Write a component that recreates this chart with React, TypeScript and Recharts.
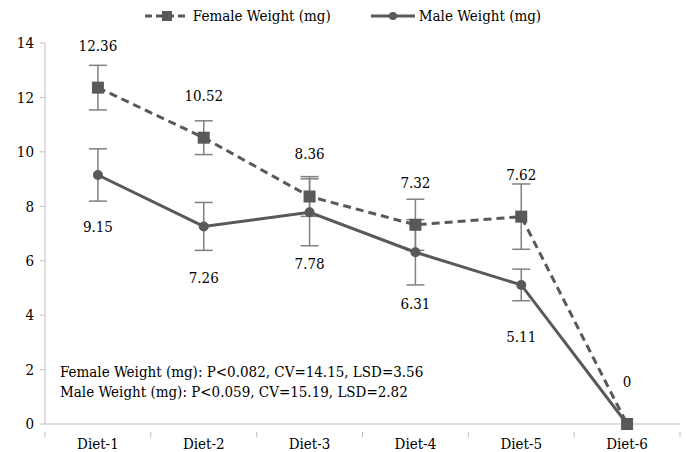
import React from "react";
import {
  LineChart,
  Line,
  XAxis,
  YAxis,
  ErrorBar,
  LabelList,
  Legend,
} from "recharts";

const diets = ["Diet-1", "Diet-2", "Diet-3", "Diet-4", "Diet-5", "Diet-6"];
const femaleWeight = [12.36, 10.52, 8.36, 7.32, 7.62, 0];
const femaleErr = [0.82, 0.62, 0.73, 0.94, 1.2, 0];
const maleWeight = [9.15, 7.26, 7.78, 6.31, 5.11, 0];
const maleErr = [0.96, 0.88, 1.23, 1.2, 0.58, 0];
const yTicks = [0, 2, 4, 6, 8, 10, 12, 14];
// band edges (0..6) get tick marks, band centres (i + 0.5) get the labels
const xTicks = [0, 0.5, 1, 1.5, 2, 2.5, 3, 3.5, 4, 4.5, 5, 5.5, 6];

const data = diets.map((d, i) => ({
  diet: d,
  pos: i + 0.5,
  female: femaleWeight[i],
  femaleErr: femaleErr[i],
  male: maleWeight[i],
  maleErr: maleErr[i],
}));

const FONT = "'DejaVu Serif Condensed', 'DejaVu Serif', serif";
const LINE = "#595959";
const ERR = "#808080";
const AXIS = "#bfbfbf";

const SquareDot = (props: any) => {
  const { cx, cy, index } = props;
  if (cx == null || cy == null) return null;
  return <rect key={`sq-${index}`} x={cx - 6} y={cy - 6} width={12} height={12} fill={LINE} />;
};

const CircleDot = (props: any) => {
  const { cx, cy, index } = props;
  if (cx == null || cy == null) return null;
  return <circle key={`ci-${index}`} cx={cx} cy={cy} r={5} fill={LINE} />;
};

const DietTick = (props: any) => {
  const { x, y, payload } = props;
  const v = payload.value;
  if (Number.isInteger(v)) {
    return <line x1={x} y1={y} x2={x} y2={y + 5} stroke={AXIS} />;
  }
  return (
    <text
      x={x}
      y={y + 17}
      textAnchor="middle"
      fill="#000"
      fontFamily={FONT}
      fontSize={15}
    >
      {diets[Math.floor(v)]}
    </text>
  );
};

const LegendContent = () => (
  <div
    style={{
      display: "flex",
      justifyContent: "center",
      gap: 40,
      fontFamily: FONT,
      fontSize: 15,
      color: "#000",
    }}
  >
    <div style={{ display: "flex", alignItems: "center", gap: 4 }}>
      <svg width={44} height={12}>
        <line x1={0} y1={6} x2={44} y2={6} stroke={LINE} strokeWidth={3} strokeDasharray="7 4" />
        <rect x={17} y={1} width={10} height={10} fill={LINE} />
      </svg>
      <span>Female Weight (mg)</span>
    </div>
    <div style={{ display: "flex", alignItems: "center", gap: 4 }}>
      <svg width={44} height={12}>
        <line x1={0} y1={6} x2={44} y2={6} stroke={LINE} strokeWidth={3} />
        <circle cx={22} cy={6} r={4} fill={LINE} />
      </svg>
      <span>Male Weight (mg)</span>
    </div>
  </div>
);

export default function App() {
  return (
    <div style={{ position: "absolute", left: 0, top: 0, width: 686, height: 452, background: "#fff" }}>
      <LineChart
        width={686}
        height={452}
        data={data}
        margin={{ top: 25, right: 6, bottom: 0, left: 0 }}
      >
        <Legend
          verticalAlign="top"
          content={<LegendContent />}
          wrapperStyle={{ top: 7, left: 0, width: 686 }}
        />
        <XAxis
          dataKey="pos"
          type="number"
          domain={[0, 6]}
          ticks={xTicks}
          interval={0}
          axisLine={{ stroke: AXIS }}
          tickLine={false}
          tick={<DietTick />}
          height={28}
        />
        <YAxis
          domain={[0, 14]}
          ticks={yTicks}
          width={45}
          axisLine={{ stroke: AXIS }}
          tickLine={{ stroke: AXIS }}
          tickSize={5}
          tick={{ fill: "#000", fontFamily: FONT, fontSize: 15 }}
          tickMargin={6}
        />
        <Line
          dataKey="female"
          stroke={LINE}
          strokeWidth={3}
          strokeDasharray="8 5"
          dot={SquareDot}
          activeDot={false}
          isAnimationActive={false}
        >
          <ErrorBar dataKey="femaleErr" direction="y" width={9} stroke={ERR} strokeWidth={1.5} />
          <LabelList
            dataKey="female"
            position="top"
            offset={37}
            style={{ fill: "#000", fontFamily: FONT, fontSize: 15 }}
          />
        </Line>
        <Line
          dataKey="male"
          stroke={LINE}
          strokeWidth={3}
          dot={CircleDot}
          activeDot={false}
          isAnimationActive={false}
        >
          <ErrorBar dataKey="maleErr" direction="y" width={9} stroke={ERR} strokeWidth={1.5} />
          <LabelList
            dataKey="male"
            position="bottom"
            offset={46}
            formatter={(v: any) => (v === 0 ? "" : v)}
            style={{ fill: "#000", fontFamily: FONT, fontSize: 15 }}
          />
        </Line>
      </LineChart>
      <div
        style={{
          position: "absolute",
          left: 60,
          top: 362,
          fontFamily: FONT,
          fontSize: 15,
          lineHeight: "20px",
          color: "#000",
          whiteSpace: "nowrap",
        }}
      >
        <div>Female Weight (mg): P&lt;0.082, CV=14.15, LSD=3.56</div>
        <div>Male Weight (mg): P&lt;0.059, CV=15.19, LSD=2.82</div>
      </div>
    </div>
  );
}
